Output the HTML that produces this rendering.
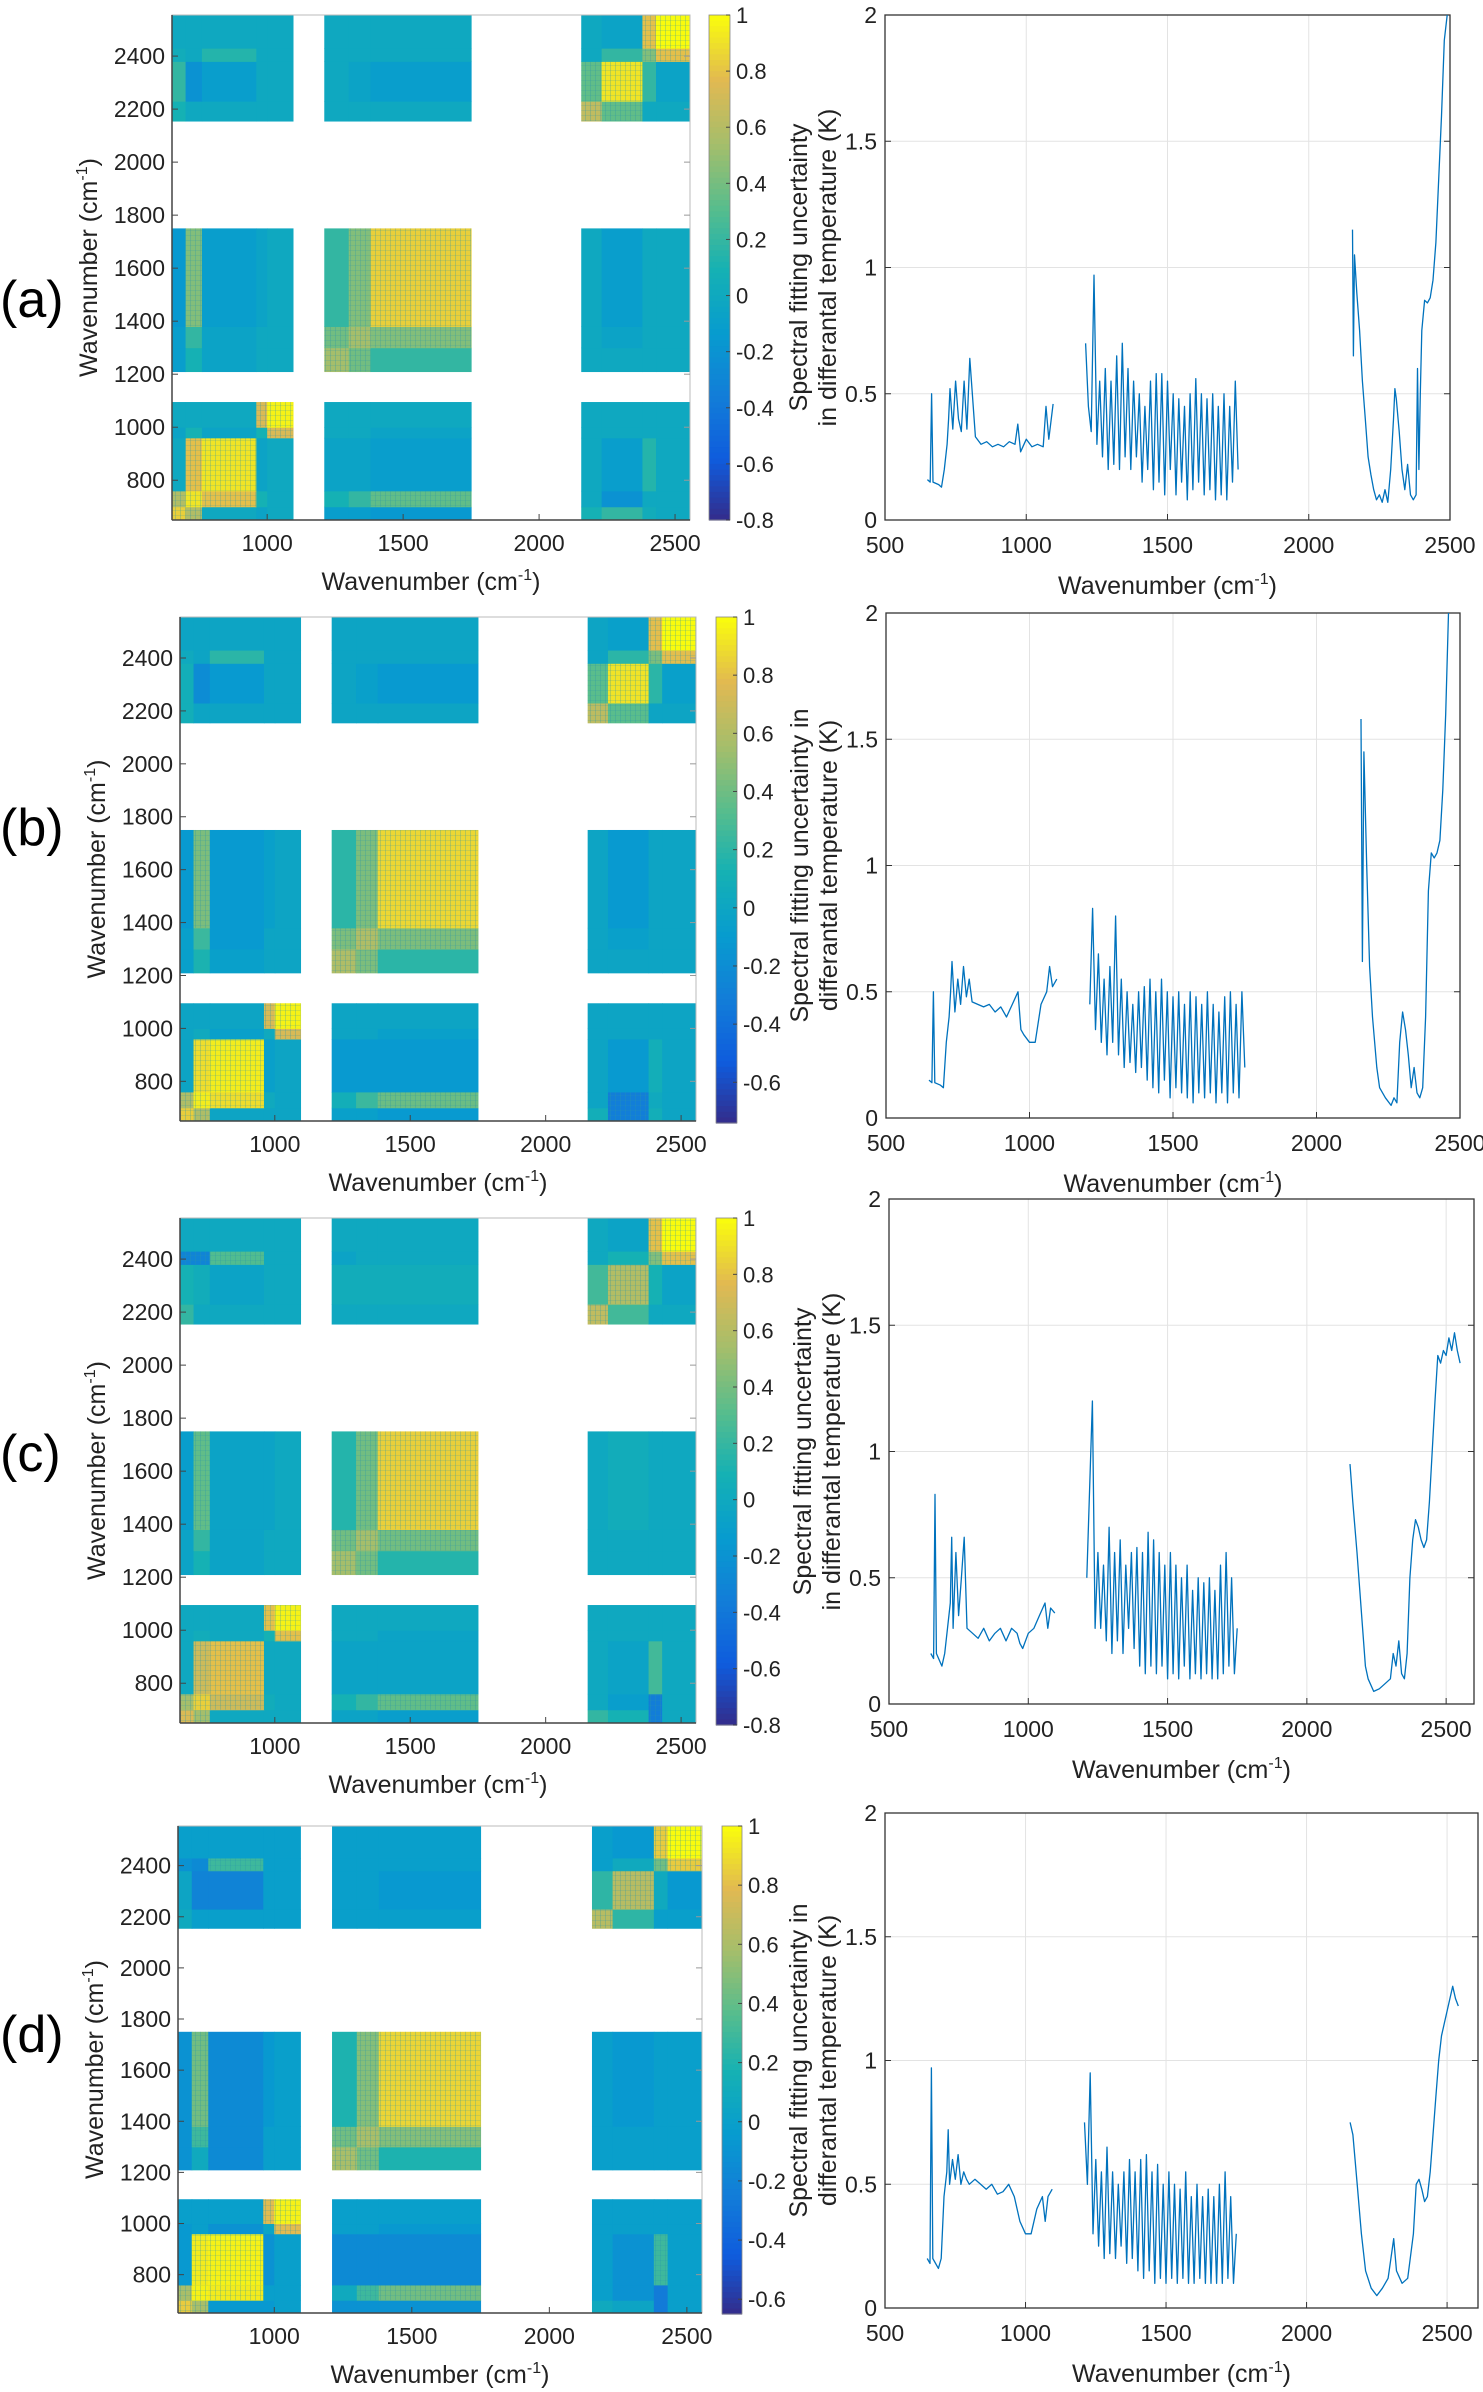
<!DOCTYPE html>
<html><head><meta charset="utf-8">
<style>
html,body{margin:0;padding:0;background:#fff;}
svg{display:block;font-family:"Liberation Sans",Arial,sans-serif;}
</style></head>
<body>
<svg id="fig" width="1483" height="2392" viewBox="0 0 1483 2392" xmlns="http://www.w3.org/2000/svg">
<defs>
<pattern id="stripes" width="5" height="5" patternUnits="userSpaceOnUse">
<rect x="0" y="0" width="1" height="5" fill="rgba(40,150,170,0.28)"/>
<rect x="0" y="0" width="5" height="1" fill="rgba(40,150,170,0.18)"/>
</pattern>
</defs>
</svg>
<script>
// ---------- DATA ----------
const panelLabels = ["(a)","(b)","(c)","(d)"];
const binRanges = [[650,700],[700,760],[760,960],[960,1000],[1000,1095],[1210,1300],[1300,1380],[1380,1750],[2155,2230],[2230,2380],[2380,2430],[2430,2555]];
const hmTicks = [800,1000,1200,1400,1600,1800,2000,2200,2400];
const hmXTicks = [1000,1500,2000,2500];
const corrA = [
[0.85,0.6,0.0,-0.05,0.0,-0.1,-0.1,-0.15,0.1,0.2,0.05,0.0],
[0.6,0.92,0.8,0.1,0.0,0.1,0.2,0.35,0.0,-0.2,0.0,0.0],
[0.0,0.8,0.92,-0.05,0.0,-0.05,-0.05,-0.1,0.0,-0.1,0.15,0.0],
[-0.05,0.1,-0.05,0.1,0.75,0.0,0.0,-0.05,0.0,0.0,0.0,0.0],
[0.0,0.0,0.0,0.75,0.97,0.0,0.0,0.0,0.0,0.0,0.0,0.0],
[-0.1,0.1,-0.05,0,0,0.55,0.4,0.2,0,0,0,0],
[-0.1,0.2,-0.05,0,0,0.4,0.55,0.45,0,-0.05,0,0],
[-0.15,0.45,-0.1,-0.05,0,0.2,0.45,0.85,0,-0.1,0,0],
[0.1,0.0,0,0,0,0,0,0,0.65,0.35,0,0],
[0.2,-0.2,-0.1,0,0,0,-0.05,-0.1,0.35,0.92,0.2,-0.05],
[0.05,0,0.15,0,0,0,0,0,0,0.2,0.45,0.8],
[0,0,0,0,0,0,0,0,0,-0.05,0.8,1.0]];
const corrB = [
[0.85,0.6,0.0,0.0,0.0,-0.05,-0.05,-0.1,0.1,-0.3,0.1,0.0],
[0.6,0.95,0.9,0.05,0.0,0.1,0.25,0.4,0.0,-0.3,0.05,0.0],
[0.0,0.9,0.95,-0.05,0.0,-0.1,-0.1,-0.1,0.0,-0.1,0.1,0.0],
[0.0,0.05,-0.05,0.05,0.75,0.0,0.0,-0.05,0.0,0.0,0.0,0.0],
[0.0,0.0,0.0,0.75,0.97,0.0,0.0,0.0,0.0,0.0,0.0,0.0],
[-0.05,0.15,-0.05,0,0,0.6,0.45,0.2,0,0,0,0],
[-0.05,0.25,-0.1,0,0,0.45,0.6,0.45,0,-0.05,0,0],
[-0.1,0.45,-0.1,-0.05,0,0.2,0.45,0.88,0,-0.1,0,0],
[0.1,0.0,0,0,0,0,0,0,0.65,0.35,0,0],
[0.1,-0.2,-0.1,0,0,0,-0.05,-0.1,0.35,0.92,0.2,-0.05],
[0.05,0,0.2,0,0,0,0,0,0,0.2,0.45,0.8],
[0,0,0,0,0,0,0,0,0,-0.05,0.8,1.0]];
const corrC = [
[0.75,0.55,0.0,0.0,0.0,-0.05,-0.05,-0.1,0.2,0.1,-0.35,0.0],
[0.55,0.85,0.7,0.05,0.0,0.1,0.2,0.35,0.0,-0.1,-0.35,0.0],
[0.0,0.7,0.8,0.0,0.0,-0.05,-0.05,-0.05,0.0,-0.05,0.25,0.0],
[0.0,0.05,0.0,0.1,0.8,0.0,0.0,-0.05,0.0,0.0,0.0,0.0],
[0.0,0.0,0.0,0.8,0.97,0.0,0.0,0.0,0.0,0.0,0.0,0.0],
[-0.05,0.1,-0.05,0,0,0.55,0.4,0.15,0,0,0,0],
[-0.05,0.2,-0.05,0,0,0.4,0.55,0.4,0,0,0,0],
[-0.1,0.35,-0.05,-0.05,0,0.15,0.4,0.85,0,0.05,0,0],
[0.2,0.0,0,0,0,0,0,0,0.65,0.25,0,0],
[0.1,0.05,-0.05,0,0,0.05,0.05,0.05,0.25,0.6,0.1,-0.05],
[-0.3,-0.3,0.3,0,0,-0.05,0,0,0,0.1,0.45,0.8],
[0,0,0,0,0,0,0,0,0,-0.05,0.8,1.0]];
const corrD = [
[0.85,0.6,-0.05,-0.05,0.0,-0.1,-0.1,-0.1,0.1,0.05,-0.25,0.0],
[0.6,0.97,0.95,0.0,0.0,0.1,0.3,0.45,0.0,-0.1,-0.25,0.0],
[-0.05,0.95,0.97,-0.1,0.0,-0.15,-0.15,-0.15,0.0,-0.1,0.3,0.0],
[-0.05,0.0,-0.1,0.05,0.8,0.0,0.0,-0.05,0.0,0.0,0.0,0.0],
[0.0,0.0,0.0,0.8,0.97,0.0,0.0,0.0,0.0,0.0,0.0,0.0],
[-0.1,0.1,-0.15,0,0,0.6,0.45,0.2,0,0,0,0],
[-0.1,0.3,-0.15,0,0,0.45,0.6,0.5,0,0,0,0],
[-0.1,0.45,-0.15,-0.05,0,0.2,0.5,0.88,0,-0.05,0,0],
[0.1,0.0,0,0,0,0,0,0,0.65,0.25,0,0],
[0.05,-0.2,-0.2,0,0,0,0,-0.05,0.25,0.65,0.1,-0.05],
[-0.1,-0.15,0.3,0,0,0,0,0,0,0.1,0.45,0.85],
[0,0,0,0,0,0,0,0,0,-0.05,0.85,1.0]];
const cbTicksA = [-0.8,-0.6,-0.4,-0.2,0,0.2,0.4,0.6,0.8,1];
const cbTicksB = [-0.6,-0.4,-0.2,0,0.2,0.4,0.6,0.8,1];
const lpXTicks = [500,1000,1500,2000,2500];
const lpYTicks = [0,0.5,1,1.5,2];
const lpYLabels = ["0","0.5","1","1.5","2"];

const wn1 = [650,660,665,670,690,700,710,720,725,730,740,750,760,770,780,790,800,820,840,860,880,900,920,940,960,970,980,1000,1020,1040,1060,1070,1080,1095];
const a1 = [0.16,0.15,0.5,0.15,0.14,0.13,0.2,0.3,0.4,0.52,0.36,0.55,0.4,0.35,0.55,0.36,0.64,0.33,0.3,0.31,0.29,0.3,0.29,0.31,0.3,0.38,0.27,0.32,0.29,0.3,0.29,0.45,0.32,0.46];
const b1 = [0.15,0.14,0.5,0.14,0.13,0.12,0.3,0.4,0.5,0.62,0.42,0.55,0.45,0.6,0.48,0.55,0.46,0.45,0.44,0.45,0.42,0.44,0.4,0.45,0.5,0.35,0.33,0.3,0.3,0.45,0.5,0.6,0.52,0.55];
const c1 = [0.2,0.18,0.83,0.2,0.15,0.2,0.3,0.4,0.66,0.3,0.6,0.35,0.5,0.66,0.3,0.29,0.28,0.26,0.3,0.25,0.28,0.3,0.25,0.3,0.28,0.24,0.22,0.28,0.3,0.35,0.4,0.3,0.38,0.36];
const d1 = [0.2,0.18,0.97,0.2,0.16,0.2,0.45,0.55,0.72,0.5,0.6,0.52,0.62,0.5,0.55,0.52,0.5,0.52,0.5,0.48,0.5,0.46,0.47,0.5,0.45,0.4,0.35,0.3,0.3,0.4,0.45,0.35,0.45,0.48];

const wn2 = [1210,1220,1230,1240,1250,1260,1270,1280,1290,1300,1310,1320,1330,1340,1350,1360,1370,1380,1390,1400,1410,1420,1430,1440,1450,1460,1470,1480,1490,1500,1510,1520,1530,1540,1550,1560,1570,1580,1590,1600,1610,1620,1630,1640,1650,1660,1670,1680,1690,1700,1710,1720,1730,1740,1750];
const a2 = [0.7,0.45,0.35,0.97,0.3,0.55,0.25,0.6,0.2,0.55,0.22,0.65,0.2,0.7,0.25,0.6,0.2,0.55,0.25,0.5,0.15,0.45,0.2,0.55,0.12,0.58,0.15,0.58,0.1,0.55,0.2,0.5,0.1,0.48,0.15,0.45,0.08,0.5,0.12,0.56,0.15,0.5,0.1,0.48,0.12,0.5,0.08,0.45,0.1,0.5,0.08,0.45,0.15,0.55,0.2];
const b2 = [0.45,0.83,0.35,0.65,0.3,0.55,0.25,0.6,0.3,0.8,0.25,0.55,0.2,0.5,0.22,0.45,0.18,0.5,0.2,0.52,0.15,0.55,0.12,0.5,0.1,0.55,0.15,0.5,0.08,0.48,0.12,0.5,0.1,0.45,0.08,0.5,0.06,0.48,0.1,0.45,0.08,0.5,0.1,0.45,0.06,0.42,0.1,0.48,0.06,0.5,0.1,0.45,0.08,0.5,0.2];
const c2 = [0.5,0.85,1.2,0.3,0.6,0.3,0.55,0.25,0.7,0.2,0.6,0.25,0.65,0.2,0.55,0.3,0.6,0.22,0.62,0.15,0.6,0.12,0.68,0.15,0.65,0.12,0.6,0.15,0.55,0.1,0.6,0.12,0.55,0.1,0.5,0.15,0.55,0.1,0.45,0.12,0.5,0.1,0.48,0.12,0.5,0.1,0.45,0.1,0.55,0.12,0.6,0.15,0.5,0.12,0.3];
const d2 = [0.75,0.5,0.95,0.3,0.6,0.25,0.55,0.2,0.65,0.22,0.55,0.2,0.5,0.25,0.55,0.18,0.6,0.2,0.55,0.15,0.6,0.12,0.62,0.15,0.55,0.1,0.58,0.12,0.5,0.1,0.55,0.12,0.5,0.1,0.48,0.12,0.55,0.1,0.45,0.1,0.5,0.12,0.45,0.1,0.48,0.1,0.45,0.1,0.5,0.1,0.55,0.12,0.45,0.1,0.3];

const wn3a = [2155,2158,2162,2170,2180,2190,2200,2210,2220,2230,2240,2250,2260,2270,2280,2290,2300,2305,2310,2320,2330,2340,2350,2360,2370,2380,2385,2390,2395,2400,2410,2420,2430,2440,2450,2460,2470,2480,2490];
const a3 = [1.15,0.65,1.05,0.9,0.75,0.55,0.4,0.25,0.18,0.12,0.08,0.1,0.07,0.12,0.07,0.2,0.4,0.52,0.48,0.35,0.2,0.12,0.22,0.1,0.08,0.1,0.6,0.2,0.5,0.75,0.87,0.86,0.88,0.95,1.1,1.35,1.6,1.9,2.0];
const wn3b = [2155,2160,2165,2175,2185,2195,2210,2220,2240,2260,2270,2280,2290,2300,2310,2320,2330,2340,2350,2360,2370,2380,2390,2400,2410,2420,2430,2440,2450,2460];
const b3 = [1.58,0.62,1.45,1.0,0.6,0.4,0.2,0.12,0.08,0.05,0.08,0.06,0.3,0.42,0.35,0.25,0.12,0.2,0.1,0.08,0.12,0.4,0.9,1.05,1.03,1.05,1.1,1.3,1.6,2.0];
const wn3c = [2155,2165,2180,2190,2200,2210,2220,2240,2260,2280,2300,2310,2320,2330,2340,2350,2360,2370,2380,2390,2400,2410,2420,2430,2440,2450,2460,2470,2480,2490,2500,2510,2520,2530,2540,2550];
const c3 = [0.95,0.8,0.6,0.45,0.3,0.15,0.1,0.05,0.06,0.08,0.1,0.2,0.15,0.25,0.12,0.1,0.2,0.5,0.65,0.73,0.7,0.65,0.62,0.65,0.8,1.0,1.2,1.38,1.35,1.4,1.38,1.45,1.4,1.47,1.4,1.35];
const wn3d = [2155,2165,2180,2195,2210,2230,2250,2270,2290,2300,2310,2320,2340,2360,2380,2390,2400,2410,2420,2430,2440,2450,2460,2470,2480,2490,2500,2510,2520,2530,2540];
const d3 = [0.75,0.7,0.5,0.3,0.15,0.08,0.05,0.08,0.12,0.2,0.28,0.15,0.1,0.12,0.3,0.5,0.52,0.48,0.43,0.45,0.55,0.7,0.85,1.0,1.1,1.15,1.2,1.25,1.3,1.25,1.22];

// ---------- LAYOUT ----------
const panels = [
 {label:panelLabels[0], labelY:299, corr:corrA, hm:{l:172,r:690,t:15,b:520}, cb:{l:709,r:730,t:15,b:520,min:-0.8,ticks:cbTicksA},
  lp:{l:885,r:1450,t:15,b:520,xmax:2500}, title:["Spectral fitting uncertainty","in differantal temperature (K)"],
  segs:[[wn1,a1],[wn2,a2],[wn3a,a3]]},
 {label:panelLabels[1], labelY:827, corr:corrB, hm:{l:180,r:696,t:617,b:1121}, cb:{l:716,r:737,t:617,b:1123,min:-0.74,ticks:cbTicksB},
  lp:{l:886,r:1460,t:613,b:1118,xmax:2500}, title:["Spectral fitting uncertainty in","differantal temperature (K)"],
  segs:[[wn1,b1],[wn2,b2],[wn3b,b3]]},
 {label:panelLabels[2], labelY:1453, corr:corrC, hm:{l:180,r:696,t:1218,b:1723}, cb:{l:716,r:737,t:1218,b:1725,min:-0.8,ticks:cbTicksA},
  lp:{l:889,r:1474,t:1199,b:1704,xmax:2600}, title:["Spectral fitting uncertainty","in differantal temperature (K)"],
  segs:[[wn1,c1],[wn2,c2],[wn3c,c3]]},
 {label:panelLabels[3], labelY:2034, corr:corrD, hm:{l:178,r:702,t:1826,b:2313}, cb:{l:722,r:742,t:1826,b:2314,min:-0.65,ticks:cbTicksB},
  lp:{l:885,r:1478,t:1813,b:2308,xmax:2610}, title:["Spectral fitting uncertainty in","differantal temperature (K)"],
  segs:[[wn1,d1],[wn2,d2],[wn3d,d3]]}
];

const NS = "http://www.w3.org/2000/svg";
const svg = document.getElementById("fig");
function mk(tag, attrs, parent){
  const e = document.createElementNS(NS, tag);
  for (const k in attrs) e.setAttribute(k, attrs[k]);
  (parent||svg).appendChild(e);
  return e;
}
const parula = [[53,42,135],[15,92,221],[18,125,216],[7,156,207],[21,177,180],[89,189,140],[165,190,107],[225,185,82],[249,251,14]];
function cmap(t){
  t = Math.max(0, Math.min(1, t));
  const s = t*(parula.length-1), i = Math.min(Math.floor(s), parula.length-2), f = s-i;
  const a = parula[i], b = parula[i+1];
  return "rgb("+[0,1,2].map(k=>Math.round(a[k]+(b[k]-a[k])*f)).join(",")+")";
}
function lin(d0,d1,r0,r1){ return v => r0 + (v-d0)/(d1-d0)*(r1-r0); }
const WN = 'Wavenumber (cm<tspan dy="-10" font-size="16">-1</tspan><tspan dy="10">)</tspan>';

panels.forEach((P, pi) => {
  const g = mk("g", {});
  
  

  const pl = mk("text", {x:0, y:P.labelY+18, "font-size":52, fill:"#000"}, g);
  pl.textContent = P.label;
  
  

  // ---- heatmap ----
  const H = P.hm;
  const hx = lin(650, 2555, H.l, H.r), hy = lin(650, 2555, H.b, H.t);
  const cval = lin(P.cb.min, 1, 0, 1);
  const hg = mk("g", {}, g);
  
  
  P.corr.forEach((row, ri) => {
    row.forEach((v, ci) => {
      const xr = binRanges[ci], yr = binRanges[ri];
      const x0 = hx(xr[0]), x1 = hx(xr[1]), y0 = hy(yr[1]), y1 = hy(yr[0]);
      const c = mk("rect", {x:x0, y:y0, width:x1-x0+0.5, height:y1-y0+0.5, fill:cmap(cval(v))}, hg);
      
      
      if (Math.abs(v) > 0.25) {
        const s = mk("rect", {x:x0, y:y0, width:x1-x0, height:y1-y0, fill:"url(#stripes)"}, hg);
        
        
      }
    });
  });
  const hb = mk("rect", {x:H.l, y:H.t, width:H.r-H.l, height:H.b-H.t, fill:"none", stroke:"#bbb", "stroke-width":1}, g);
  
  
  mk("line", {x1:H.l, y1:H.b, x2:H.r, y2:H.b, stroke:"#444", "stroke-width":1.5}, g);
  mk("line", {x1:H.l, y1:H.t, x2:H.l, y2:H.b, stroke:"#444", "stroke-width":1.5}, g);
  hmTicks.forEach(t => {
    const y = hy(t);
    mk("line", {x1:H.l, y1:y, x2:H.l+6, y2:y, stroke:"#444"}, g);
    mk("line", {x1:H.r, y1:y, x2:H.r-6, y2:y, stroke:"#999"}, g);
    const tx = mk("text", {x:H.l-7, y:y+8, "font-size":23, "text-anchor":"end", fill:"#222"}, g);
    tx.textContent = t;
    
    
  });
  hmXTicks.forEach(t => {
    const x = hx(t);
    mk("line", {x1:x, y1:H.b, x2:x, y2:H.b-6, stroke:"#444"}, g);
    const tx = mk("text", {x:x, y:H.b+31, "font-size":23, "text-anchor":"middle", fill:"#222"}, g);
    tx.textContent = t;
    
    
  });
  const hxt = mk("text", {x:(H.l+H.r)/2, y:H.b+70, "font-size":25, "text-anchor":"middle", fill:"#222"}, g);
  hxt.innerHTML = WN;
  
  
  const cy = (H.t+H.b)/2;
  const hyt = mk("text", {x:0, y:0, "font-size":25, "text-anchor":"middle", fill:"#222", transform:"translate("+(H.l-75)+","+cy+") rotate(-90)"}, g);
  hyt.innerHTML = WN;
  
  

  // ---- colorbar ----
  const C = P.cb;
  const cbg = mk("g", {}, g);
  
  
  const n = 90;
  for (let i = 0; i < n; i++) {
    const y0 = C.t + (C.b-C.t)*i/n;
    const r = mk("rect", {x:C.l, y:y0, width:C.r-C.l, height:(C.b-C.t)/n+0.6, fill:cmap(1 - i/n)}, cbg);
    
    
  }
  mk("rect", {x:C.l, y:C.t, width:C.r-C.l, height:C.b-C.t, fill:"none", stroke:"#888", "stroke-width":0.8}, cbg);
  const cy2 = lin(C.min, 1, C.b, C.t);
  C.ticks.forEach(t => {
    const y = cy2(t);
    mk("line", {x1:C.r, y1:y, x2:C.r-4, y2:y, stroke:"#444"}, cbg);
    const tx = mk("text", {x:C.r+6, y:y+8, "font-size":22, fill:"#222"}, cbg);
    tx.textContent = (Math.abs(t) < 1e-9) ? "0" : String(t);
    
    
  });

  // ---- line plot ----
  const L = P.lp;
  const lx = lin(500, L.xmax, L.l, L.r), ly = lin(0, 2, L.b, L.t);
  const lg = mk("g", {}, g);
  
  
  lpXTicks.forEach(t => {
    const x = lx(t);
    mk("line", {x1:x, y1:L.t, x2:x, y2:L.b, stroke:"#e3e3e3", "stroke-width":1}, lg);
    mk("line", {x1:x, y1:L.b, x2:x, y2:L.b-6, stroke:"#333"}, lg);
    const tx = mk("text", {x:x, y:L.b+33, "font-size":23, "text-anchor":"middle", fill:"#222"}, lg);
    tx.textContent = t;
    
    
  });
  lpYTicks.forEach((t, i) => {
    const y = ly(t);
    mk("line", {x1:L.l, y1:y, x2:L.r, y2:y, stroke:"#e3e3e3", "stroke-width":1}, lg);
    mk("line", {x1:L.l, y1:y, x2:L.l+6, y2:y, stroke:"#333"}, lg);
    mk("line", {x1:L.r, y1:y, x2:L.r-6, y2:y, stroke:"#333"}, lg);
    const tx = mk("text", {x:L.l-8, y:y+8, "font-size":23, "text-anchor":"end", fill:"#222"}, lg);
    tx.textContent = lpYLabels[i];
    
    
  });
  mk("rect", {x:L.l, y:L.t, width:L.r-L.l, height:L.b-L.t, fill:"none", stroke:"#333", "stroke-width":1.3}, lg);
  P.segs.forEach((seg, si) => {
    const xs = seg[0], ys = seg[1];
    const d = xs.map((w, k) => (k ? "L" : "M") + lx(w).toFixed(1) + "," + ly(ys[k]).toFixed(1)).join(" ");
    const p = mk("path", {d:d, fill:"none", stroke:"#0072BD", "stroke-width":1.3, "stroke-linejoin":"round"}, lg);
    
    
  });
  const lxt = mk("text", {x:(L.l+L.r)/2, y:L.b+74, "font-size":25, "text-anchor":"middle", fill:"#222"}, lg);
  lxt.innerHTML = WN;
  
  
  const lcy = (L.t+L.b)/2;
  const lyt = mk("text", {x:0, y:0, "font-size":25, "text-anchor":"middle", fill:"#222", transform:"translate("+(L.l-78)+","+lcy+") rotate(-90)"}, lg);
  lyt.innerHTML = '<tspan x="0" dy="0">' + P.title[0] + '</tspan><tspan x="0" dy="29">' + P.title[1] + '</tspan>';
  
  
});
</script>
</body></html>
